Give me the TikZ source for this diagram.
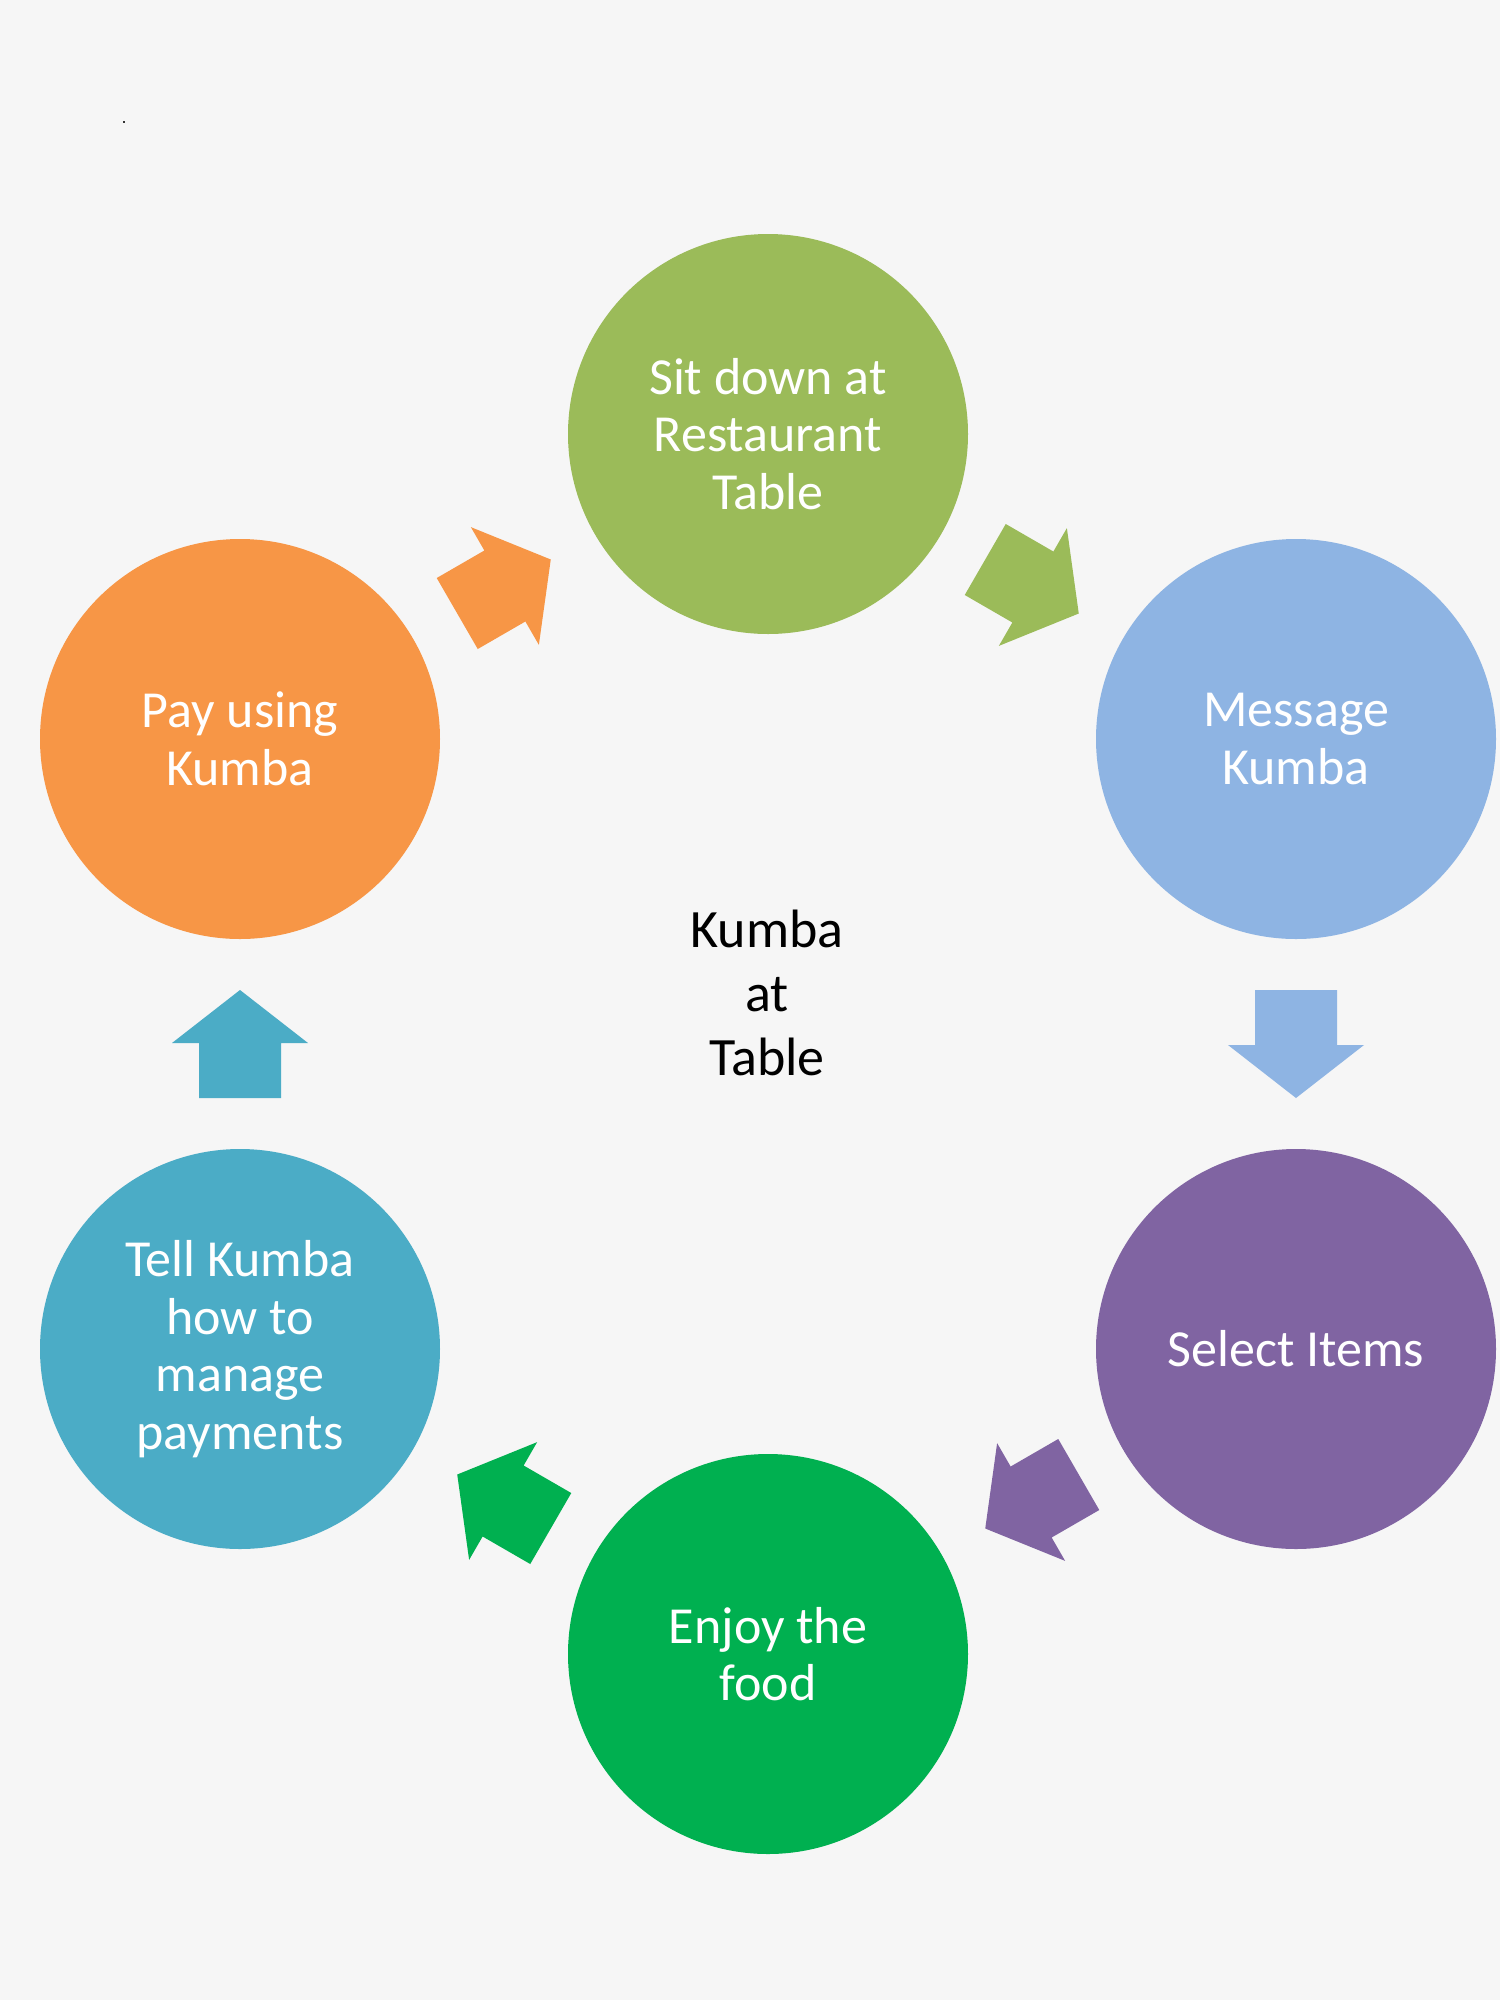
\documentclass[tikz,border=0pt]{standalone}
\usepackage{fontspec}
\setmainfont{Carlito}
\usetikzlibrary{calc}
\definecolor{bg}{HTML}{F6F6F6}
\definecolor{cgreen}{HTML}{9BBB59}
\definecolor{cblue}{HTML}{8EB4E3}
\definecolor{cpurple}{HTML}{8064A2}
\definecolor{cdgreen}{HTML}{00B050}
\definecolor{cteal}{HTML}{4BACC6}
\definecolor{corange}{HTML}{F79646}
\newcommand\blockarrow[3]{%
  \coordinate (#1#2m) at ($(#1)!0.5!(#2)$);
  \coordinate (#1#2h) at ($(#1#2m)!1pt!(#2)$);
  \coordinate (#1#2t) at ($(#1#2m)!-54pt!(#2)$);
  \fill[#3] ($(#1#2m)!54pt!(#2)$) -- ($(#1#2h)!68pt!90:(#2)$) -- ($(#1#2h)!41pt!90:(#2)$)
    -- ($(#1#2t)!41pt!90:(#2)$) -- ($(#1#2t)!41pt!-90:(#2)$) -- ($(#1#2h)!41pt!-90:(#2)$)
    -- ($(#1#2h)!68pt!-90:(#2)$) -- cycle;
}
\begin{document}
\begin{tikzpicture}[x=1pt,y=-1pt,
  circ/.style={circle, minimum size=400pt, inner sep=0pt, text=white, align=center,
    font=\fontsize{52}{57.5}\selectfont},
  ctext/.style={text=black, align=center, font=\fontsize{54}{64}\selectfont}]
\fill[bg] (0,0) rectangle (1500,2000);
\fill[black!80] (123,121) rectangle (125,123);
\node[circ, fill=cgreen]  (c1) at (768,434)  {Sit down at\\Restaurant\\Table};
\node[circ, fill=cblue]   (c2) at (1296,739) {Message\\Kumba};
\node[circ, fill=cpurple] (c3) at (1296,1349) {Select Items};
\node[circ, fill=cdgreen] (c4) at (768,1654) {Enjoy the\\food};
\node[circ, fill=cteal]   (c5) at (240,1349) {Tell Kumba\\how to\\manage\\payments};
\node[circ, fill=corange] (c6) at (240,739) {Pay using\\Kumba};
\node[ctext] (title) at (767,993) {Kumba\\at\\Table};
\blockarrow{c1}{c2}{cgreen}
\blockarrow{c2}{c3}{cblue}
\blockarrow{c3}{c4}{cpurple}
\blockarrow{c4}{c5}{cdgreen}
\blockarrow{c5}{c6}{cteal}
\blockarrow{c6}{c1}{corange}
\end{tikzpicture}
\end{document}
